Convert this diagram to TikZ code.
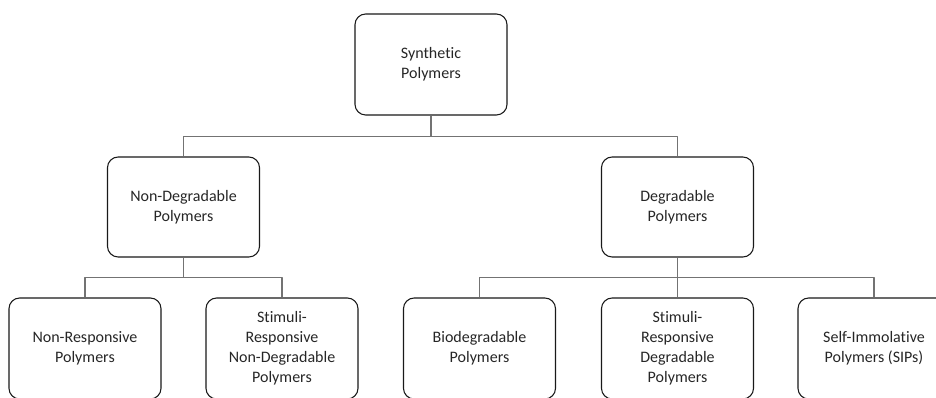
\documentclass[tikz,border=0pt]{standalone}
\usepackage{fontspec}
\setmainfont{Carlito}[RawFeature={-liga}]

\begin{document}
\begin{tikzpicture}[x=0.75pt,y=-0.75pt,line join=round,
  every node/.style={inner sep=1pt},
  box/.style={draw=black!90,line width=0.8pt,rounded corners=8pt,minimum width=114pt,minimum height=75pt,align=center,text=black!85,font=\fontsize{12}{15}\selectfont},
  link/.style={draw=black!55,line width=1.4pt}]
  \def\gapa{21}
  \def\gapb{20}
  \useasboundingbox (0,0) rectangle (936,398);
  \node[box,minimum height=75.75pt] (synth) at (431,64.5) {Synthetic\\Polymers};
  \node[box] (nondeg) at (183.5,207) {Non-Degradable\\Polymers};
  \node[box] (deg) at (677.5,207) {Degradable\\Polymers};
  \node[box,minimum height=75.75pt] (nonresp) at (85,348.5) {Non-Responsive\\Polymers};
  \node[box,minimum height=75.75pt] (srnondeg) at (282,348.5) {Stimuli-\\Responsive\\Non-Degradable\\Polymers};
  \node[box,minimum height=75.75pt] (biodeg) at (479.5,348.5) {Biodegradable\\Polymers};
  \node[box,minimum height=75.75pt] (srdeg) at (677.5,348.5) {Stimuli-\\Responsive\\Degradable\\Polymers};
  \node[box,minimum height=75.75pt] (sip) at (874,348.5) {Self-Immolative\\Polymers (SIPs)};
  \draw[link] (synth.south) -- ++(0,\gapa) -| (nondeg.north);
  \draw[link] (synth.south) -- ++(0,\gapa) -| (deg.north);
  \draw[link] (nondeg.south) -- ++(0,\gapb) -| (nonresp.north);
  \draw[link] (nondeg.south) -- ++(0,\gapb) -| (srnondeg.north);
  \draw[link] (deg.south) -- ++(0,\gapb) -| (biodeg.north);
  \draw[link] (deg.south) -- (srdeg.north);
  \draw[link] (deg.south) -- ++(0,\gapb) -| (sip.north);
\end{tikzpicture}
\end{document}
